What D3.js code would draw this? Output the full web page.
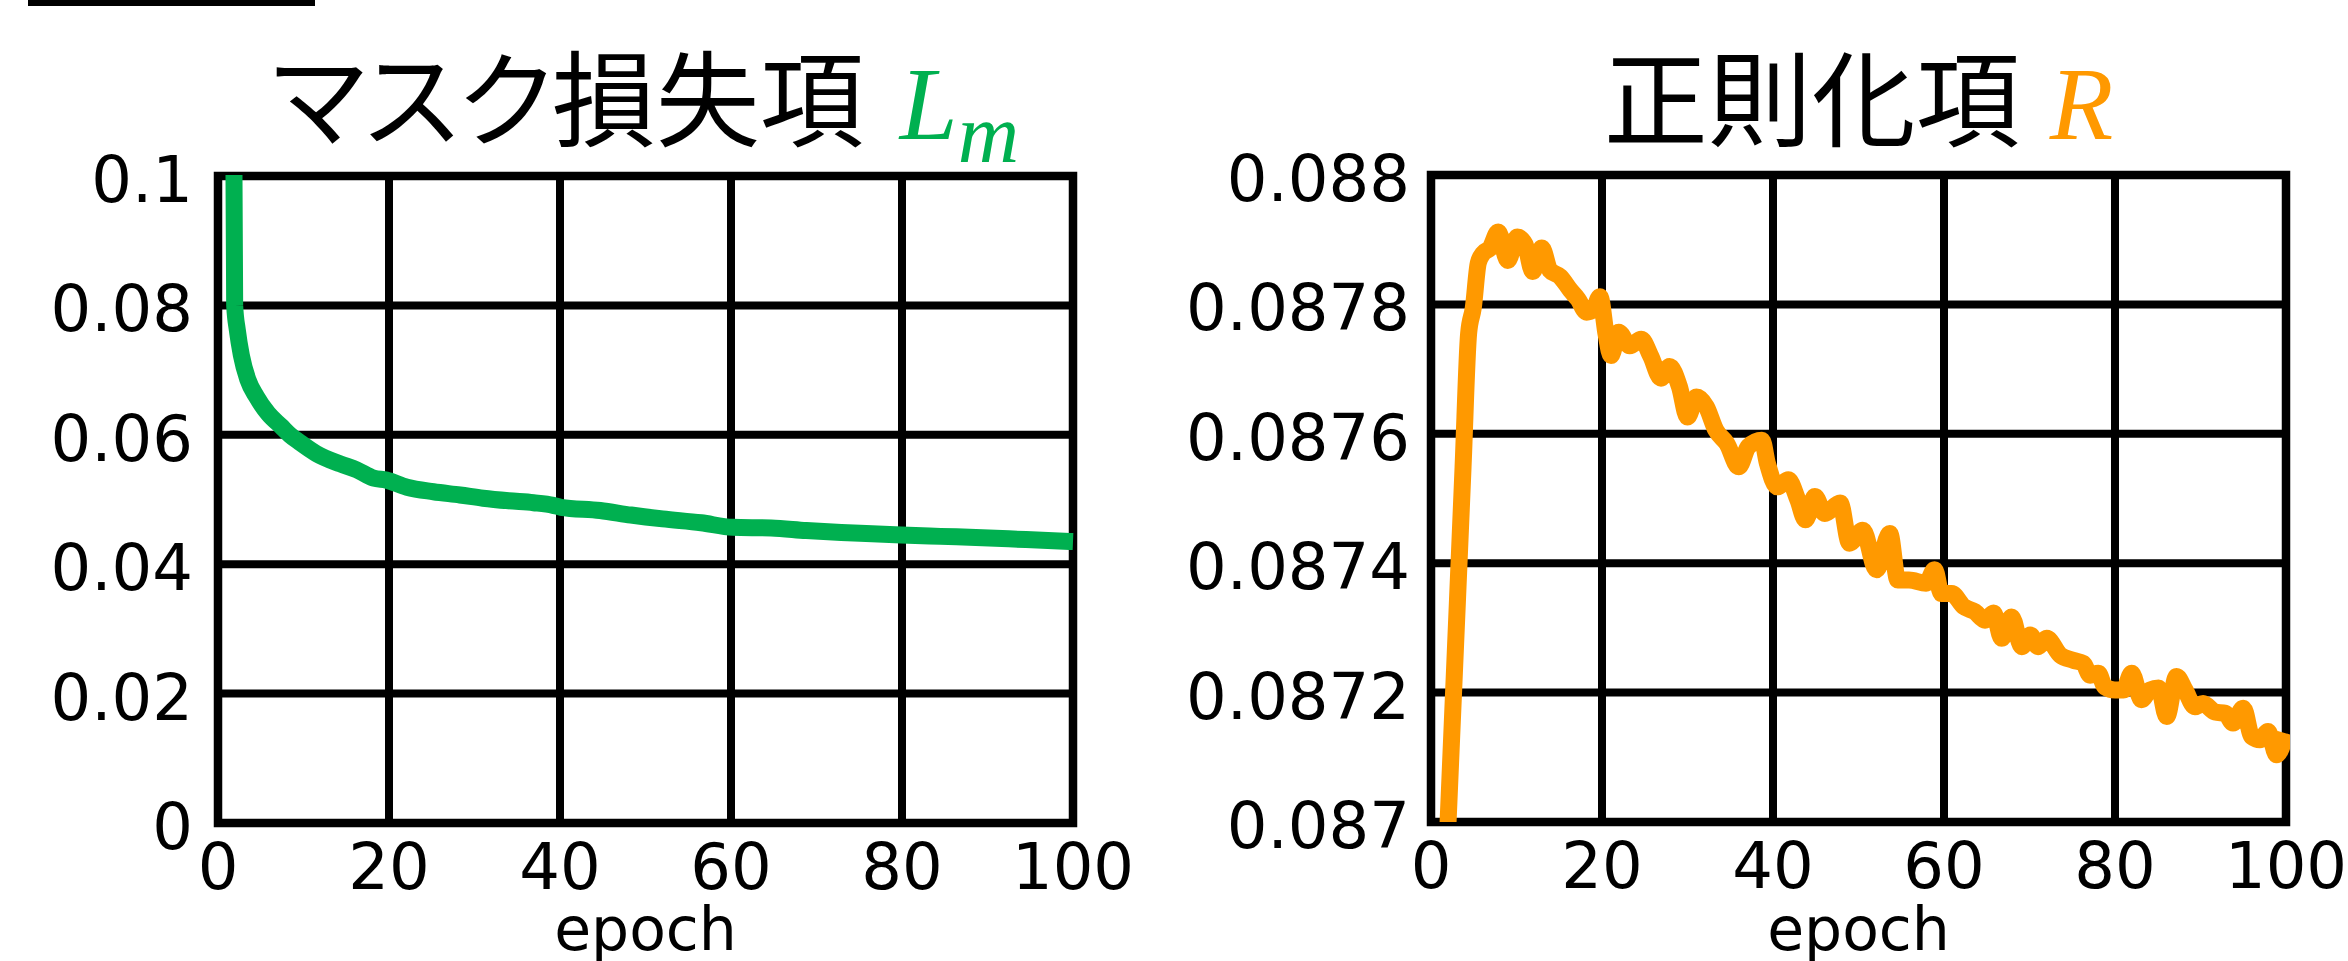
<!DOCTYPE html>
<html>
<head>
<meta charset="utf-8">
<script src="https://cdn.jsdelivr.net/npm/d3@7"></script>
<style>
  html, body { margin: 0; padding: 0; background: #fff; }
  svg { display: block; }
</style>
</head>
<body>
<svg id="chart" width="2348" height="961"></svg>
<script>
// ---------- data ----------
const xTicks = [0, 20, 40, 60, 80, 100];
const xTickLabels = ["0", "20", "40", "60", "80", "100"];

const maskTicks = [0, 0.02, 0.04, 0.06, 0.08, 0.1];
const maskTickLabels = ["0", "0.02", "0.04", "0.06", "0.08", "0.1"];

const regTicks = [0.087, 0.0872, 0.0874, 0.0876, 0.0878, 0.088];
const regTickLabels = ["0.087", "0.0872", "0.0874", "0.0876", "0.0878", "0.088"];

// mask loss L_m
const maskEpochs = [1.85, 1.95, 2.26, 2.73, 3.5, 4.5, 5.85, 7.4, 8.4, 9.6, 11.5, 14.3, 16.2, 18.2,
  19.7, 22.1, 25.2, 28.3, 31, 34, 36.9, 39.2, 40.1, 44.7, 48.3, 52, 56.5, 60.2, 64.7, 68.8, 72.9,
  76.5, 79.9, 84.5, 89.4, 94.5, 100];
const maskValues = [0.105, 0.0800, 0.0762, 0.0723, 0.0685, 0.0659, 0.0633, 0.0613, 0.0600, 0.0588,
  0.0571, 0.0555, 0.0546, 0.0533, 0.0530, 0.0519, 0.0512, 0.0507, 0.0502, 0.0498, 0.0495, 0.0491,
  0.0488, 0.0483, 0.0476, 0.0470, 0.0464, 0.0457, 0.0456, 0.0452, 0.0449, 0.0447, 0.0445, 0.0443,
  0.0441, 0.0438, 0.0435];

// regularization term R
const regEpochs = [1.9, 3.1, 3.75, 4.4, 4.95, 5.53, 6.1, 6.9, 7.87, 8.97, 10.1, 11.0, 11.9, 12.95,
  13.9, 15.1, 16.3, 17.2, 18.2, 19.0, 19.75, 20.5, 21.05, 21.95, 23.25, 24.6, 25.7, 26.9, 27.9,
  29.05, 30.0, 31.05, 32.2, 33.3, 34.6, 36.0, 37.1, 38.7, 39.35, 40.5, 41.8, 42.9, 43.8, 44.9,
  46.05, 47.85, 48.95, 50.5, 52.1, 53.65, 54.6, 55.9, 57.9, 58.9, 59.7, 60.9, 62.3, 63.6, 64.8,
  65.8, 66.75, 67.9, 69.1, 70.1, 71.0, 72.0, 73.6, 75.1, 76.3, 77.1, 78.05, 78.8, 80.0, 81.0,
  81.95, 83.1, 84.1, 85.1, 86.05, 87.2, 88.2, 89.35, 90.3, 91.7, 92.9, 93.8, 95.0, 96.0, 96.95,
  97.9, 98.9, 100.0];
const regValues = [0.086970, 0.087344, 0.087549, 0.087755, 0.087795, 0.087864, 0.087879, 0.087887,
  0.087912, 0.087868, 0.087904, 0.087893, 0.087851, 0.087887, 0.087853, 0.087843, 0.087822,
  0.087808, 0.087788, 0.087792, 0.087812, 0.087752, 0.087721, 0.087757, 0.087736, 0.087746,
  0.087720, 0.087686, 0.087704, 0.087673, 0.087626, 0.087657, 0.087642, 0.087606, 0.087585,
  0.087549, 0.087580, 0.087590, 0.087554, 0.087518, 0.087529, 0.087498, 0.087467, 0.087503,
  0.087477, 0.087493, 0.087431, 0.087451, 0.087390, 0.087446, 0.087374, 0.087374, 0.087369,
  0.087390, 0.087353, 0.087353, 0.087333, 0.087325, 0.087312, 0.087323, 0.087284, 0.087317,
  0.087271, 0.087289, 0.087271, 0.087284, 0.087258, 0.087250, 0.087245, 0.087227, 0.087230,
  0.087209, 0.087204, 0.087204, 0.087230, 0.087189, 0.087204, 0.087207, 0.087163, 0.087225,
  0.087204, 0.087178, 0.087183, 0.087170, 0.087168, 0.087153, 0.087176, 0.087132, 0.087127,
  0.087140, 0.087104, 0.087137];

// ---------- drawing ----------
const svg = d3.select("#chart");
const tickFont = "'DejaVu Sans', Verdana, sans-serif";

// top-left black bar
svg.append("rect").attr("x", 28).attr("y", 0).attr("width", 287).attr("height", 6).attr("fill", "#000");

function panel(cfg) {
  const x = d3.scaleLinear().domain([0, 100]).range([cfg.left, cfg.right]);
  const y = d3.scaleLinear().domain(cfg.yDomain).range([cfg.bottom, cfg.top]);
  const g = svg.append("g");

  // grid lines
  g.selectAll(".vg").data(xTicks.slice(1, -1)).enter().append("line")
    .attr("x1", d => x(d)).attr("x2", d => x(d))
    .attr("y1", cfg.top).attr("y2", cfg.bottom)
    .attr("stroke", "#000").attr("stroke-width", 8);
  g.selectAll(".hg").data(cfg.yTicks.slice(1, -1)).enter().append("line")
    .attr("x1", cfg.left).attr("x2", cfg.right)
    .attr("y1", d => y(d)).attr("y2", d => y(d))
    .attr("stroke", "#000").attr("stroke-width", 8);
  // frame
  g.append("rect")
    .attr("x", cfg.left).attr("y", cfg.top)
    .attr("width", cfg.right - cfg.left).attr("height", cfg.bottom - cfg.top)
    .attr("fill", "none").attr("stroke", "#000").attr("stroke-width", 8.5);

  // y tick labels
  g.selectAll(".yl").data(cfg.yTicks).enter().append("text")
    .attr("x", cfg.left - cfg.yLabelGap)
    .attr("y", d => y(d) + 26)
    .attr("text-anchor", "end")
    .attr("font-family", tickFont).attr("font-size", 64)
    .text((d, i) => cfg.yLabels[i]);

  // x tick labels
  g.selectAll(".xl").data(xTicks).enter().append("text")
    .attr("x", d => x(d))
    .attr("y", cfg.bottom + 66)
    .attr("text-anchor", "middle")
    .attr("font-family", tickFont).attr("font-size", 64)
    .text((d, i) => xTickLabels[i]);

  // x axis title
  g.append("text")
    .attr("x", (cfg.left + cfg.right) / 2)
    .attr("y", 950)
    .attr("text-anchor", "middle")
    .attr("font-family", tickFont).attr("font-size", 60)
    .text("epoch");

  // clip + line
  const clipId = "clip-" + cfg.id;
  svg.append("clipPath").attr("id", clipId).append("rect")
    .attr("x", cfg.left).attr("y", cfg.top - 1)
    .attr("width", cfg.right - cfg.left + 4).attr("height", cfg.bottom - cfg.top + 1);
  const pts = cfg.epochs.map((e, i) => [e, cfg.values[i]]);
  const line = d3.line().x(d => x(d[0])).y(d => y(d[1])).curve(d3.curveMonotoneX);
  g.append("path").datum(pts)
    .attr("clip-path", `url(#${clipId})`)
    .attr("d", line)
    .attr("fill", "none").attr("stroke", cfg.color)
    .attr("stroke-width", 17).attr("stroke-linejoin", "round").attr("stroke-linecap", "butt");

  // title
  const t = svg.append("text")
    .attr("x", (cfg.left + cfg.right) / 2)
    .attr("y", 139)
    .attr("text-anchor", "middle");
  t.append("tspan")
    .attr("font-family", "'Noto Sans CJK JP', sans-serif")
    .attr("font-size", 104)
    .style("font-feature-settings", "'palt' 1")
    .text(cfg.title);
  t.append("tspan")
    .attr("dx", cfg.symGap)
    .attr("font-family", "'Liberation Serif', 'DejaVu Serif', serif")
    .attr("font-style", "italic")
    .attr("font-size", 104)
    .attr("fill", cfg.color)
    .text(cfg.sym);
  if (cfg.sub) {
    t.append("tspan")
      .attr("dy", 23)
      .attr("font-family", "'Liberation Serif', 'DejaVu Serif', serif")
      .attr("font-style", "italic")
      .attr("font-size", 85)
      .attr("fill", cfg.color)
      .text(cfg.sub);
  }
}

panel({
  id: "mask", left: 218, right: 1073, top: 176, bottom: 823,
  yDomain: [0, 0.1], yTicks: maskTicks, yLabels: maskTickLabels, yLabelGap: 25,
  epochs: maskEpochs, values: maskValues, color: "#00B050",
  title: "マスク損失項", sym: "L", sub: "m", symGap: 36
});
panel({
  id: "reg", left: 1431, right: 2286, top: 175, bottom: 822,
  yDomain: [0.087, 0.088], yTicks: regTicks, yLabels: regTickLabels, yLabelGap: 21,
  epochs: regEpochs, values: regValues, color: "#FF9900",
  title: "正則化項", sym: "R", sub: null, symGap: 30
});
</script>
</body>
</html>
